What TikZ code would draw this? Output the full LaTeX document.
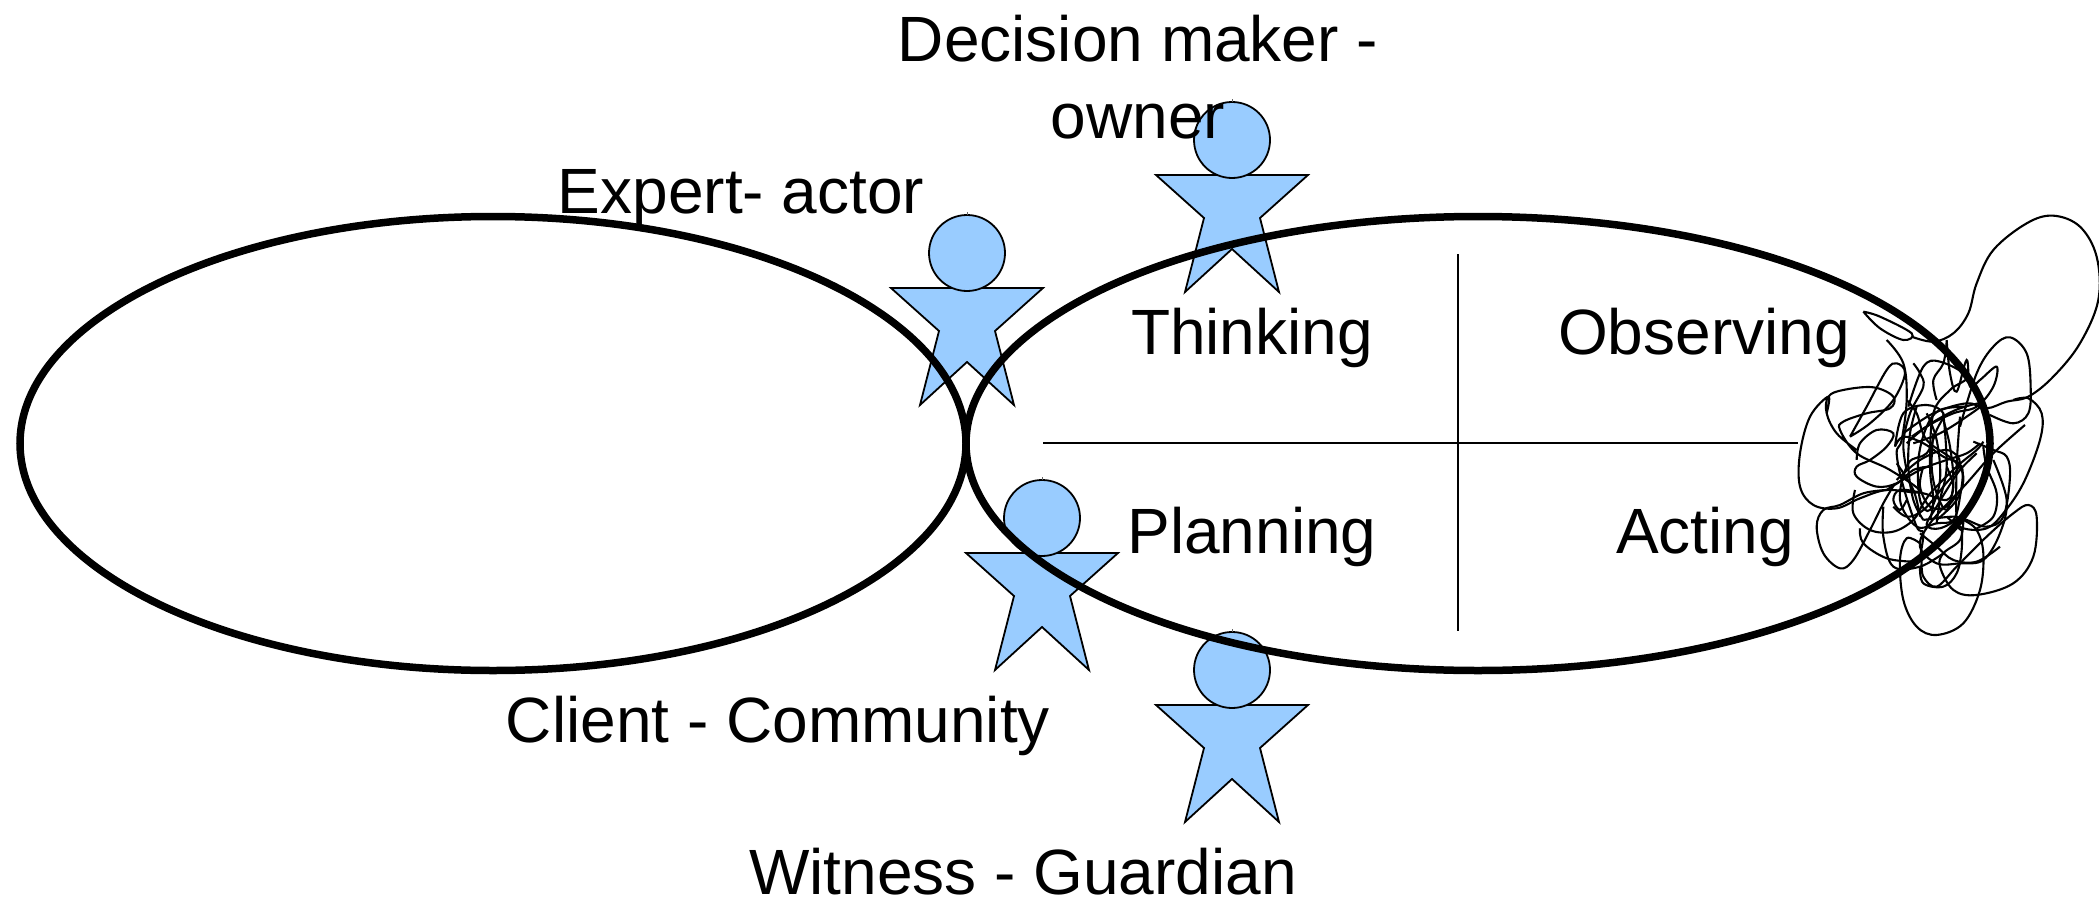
\documentclass[tikz,border=0pt]{standalone}
\usepackage{fontspec}
\usetikzlibrary{shapes.geometric}
\setmainfont{Liberation Sans}
\newcommand{\scrib}[1]{\draw[scribline] plot[smooth,tension=0.6] coordinates {#1};}
\newcommand{\personfig}[3]{%
  \begin{scope}[shift={(#2,#3)}]
    \path[figline] (-76,35) -- (76,35) -- (28,78) -- (47,152) -- (0,109) -- (-47,152) -- (-28,78) -- cycle;
    \node[headdot] (#1) at (0,0) {};
    \draw[tickline] (0,-38) -- (0,-41);
  \end{scope}}
\tikzset{
  x=1pt,y=-1pt,
  figline/.style={draw=black,fill=figblue,line width=1.8pt,line join=miter},
  headdot/.style={circle,draw=black,fill=figblue,line width=1.8pt,minimum size=76pt,inner sep=0pt,outer sep=0pt},
  tickline/.style={draw=black!60,line width=0.6pt},
  scribline/.style={draw=black,line width=2.1pt},
  ring/.style={draw=black,line width=7.5pt,ellipse,minimum height=454pt,inner sep=0pt,outer sep=0pt},
  axis/.style={draw=black,line width=1.2pt},
  lbl/.style={font=\fontsize{64}{76}\selectfont,anchor=base,inner sep=0pt,text=black},
}
\definecolor{figblue}{HTML}{99CCFF}
\begin{document}
\begin{tikzpicture}
\useasboundingbox (0,0) rectangle (2099,899);
\coordinate (vtop) at (1458,254);
\coordinate (vbot) at (1458,631);
\coordinate (hleft) at (1043,443);
\coordinate (hright) at (1798,443);
\personfig{owner}{1232}{140}
\personfig{expert}{967}{253}
\personfig{client}{1042}{518}
\personfig{witness}{1232}{670}
\draw[axis] (vtop) -- (vbot);
\draw[axis] (hleft) -- (hright);
\node[lbl] (lthink) at (1252,354) {Thinking};
\node[lbl] (lobs) at (1704,354) {Observing};
\node[lbl] (lplan) at (1252,553) {Planning};
\node[lbl] (lact) at (1705,553) {Acting};
\node[lbl] (ldec) at (1138,62) {Decision maker -};
\node[lbl] (lown) at (1138,138) {owner};
\node[lbl] (lexp) at (741,213) {Expert- actor};
\node[lbl] (lcli) at (778,742) {Client - Community};
\node[lbl] (lwit) at (1023,894) {Witness - Guardian};
\begin{scope}[shift={(1780,200)},x=0.3333pt,y=-0.3333pt]
\scrib{(250,335)(300,350)(395,400)(370,420)(300,385)(250,335)}
\scrib{(395,410)(460,425)(520,400)(565,340)(590,250)(640,150)(740,70)(820,47)(900,80)(950,170)(955,300)(900,430)(820,530)(745,590)(680,605)(620,625)(560,610)(460,640)(370,700)}
\scrib{(540,680)(590,520)(640,440)(690,412)(740,460)(752,560)(745,640)(700,670)(630,645)}
\scrib{(700,600)(745,595)(785,640)(780,720)(730,850)(670,940)(620,985)(550,985)(500,950)}
\scrib{(425,1080)(430,1130)(470,1160)(530,1100)(620,1010)(700,940)(745,915)(770,950)(760,1070)(700,1150)(590,1185)(520,1170)(480,1100)(490,1060)(540,1020)(550,960)}
\scrib{(420,1030)(380,1015)(360,1080)(370,1200)(410,1280)(470,1305)(550,1270)(600,1170)(610,1060)(590,990)(550,960)}
\scrib{(345,850)(310,910)(270,990)(220,1080)(180,1105)(130,1060)(110,980)(130,930)(180,915)(250,880)(320,870)}
\scrib{(140,640)(145,590)(90,650)(60,760)(60,860)(100,915)(170,925)(240,895)(320,870)(420,875)(330,810)(230,760)(180,690)(190,665)(260,640)(330,625)(340,590)(280,562)(190,570)(145,590)(140,640)(170,700)(230,750)}
\scrib{(320,420)(370,490)(380,600)(365,720)(350,760)(370,860)(410,980)(430,1000)(420,1070)}
\scrib{(210,710)(260,620)(320,510)(350,490)(375,520)(340,600)(270,670)(210,710)}
\scrib{(385,620)(430,500)(480,485)(560,530)(510,570)(460,640)(450,800)(460,900)(450,960)}
\scrib{(500,420)(510,520)(530,575)(560,480)(570,560)(600,540)(650,500)(640,560)(590,620)(520,640)(440,680)(380,730)}
\scrib{(345,740)(370,640)(440,615)(490,640)(470,690)(440,760)(385,790)(360,900)(410,980)(470,970)(520,960)(540,890)(545,800)(490,770)(430,730)(370,710)(345,740)}
\scrib{(470,600)(460,540)(490,490)(500,425)}
\scrib{(540,650)(530,800)(530,960)(545,990)}
\scrib{(380,810)(370,730)(390,640)(430,560)(420,520)(400,490)}
\scrib{(230,780)(240,730)(290,690)(340,700)(320,740)(270,780)(230,800)(230,830)(290,860)(350,850)(400,810)(450,800)}
\scrib{(225,870)(220,940)(270,990)(340,995)(400,960)(430,910)(460,870)(530,800)(590,750)(610,725)}
\scrib{(580,725)(640,750)(680,770)(690,830)(670,950)(620,980)(560,960)(520,950)(430,960)}
\scrib{(640,780)(680,900)(660,1000)(610,1080)(540,1090)(470,1090)(420,1040)(450,970)(560,850)(640,760)(735,675)}
\scrib{(310,920)(310,1010)(340,1100)(420,1100)(490,1060)}
\scrib{(240,985)(250,1030)(320,1075)(400,1085)}
\scrib{(420,1100)(430,1150)(490,1160)(530,1120)(545,1050)(545,980)}
\scrib{(490,640)(500,800)(480,900)(470,970)}
\scrib{(350,790)(400,870)(420,950)}
\scrib{(320,870)(420,810)(500,780)(560,760)(600,730)}
\scrib{(380,900)(360,930)(340,900)(360,870)(430,880)(500,900)(520,860)(500,800)}
\scrib{(410,620)(390,700)(385,800)(400,900)(430,960)}
\scrib{(430,800)(420,860)(450,920)(500,920)(540,870)}
\scrib{(440,640)(470,720)(480,840)(450,930)(420,900)(415,780)(440,680)(480,630)(560,620)}
\scrib{(395,710)(470,660)(540,625)(610,610)(560,650)(480,700)(400,730)}
\scrib{(460,700)(455,800)(470,880)(500,930)(520,850)(510,740)(490,660)}
\scrib{(350,840)(420,780)(500,750)(540,790)(490,860)(430,930)(380,950)(340,920)}
\scrib{(610,740)(620,800)(650,880)(640,950)(590,985)}
\scrib{(380,600)(410,640)(440,720)(520,780)(550,830)(530,900)(470,960)}
\scrib{(590,760)(540,810)(500,870)(470,920)(440,975)(480,985)(540,950)(590,890)(615,810)}
\scrib{(420,1000)(470,1040)(520,1080)(590,1085)(660,1040)}
\end{scope}
\node[ring,minimum width=946pt] (leftring) at (493,443.5) {};
\node[ring,minimum width=1024pt] (rightring) at (1478,443.5) {};
\end{tikzpicture}
\end{document}
